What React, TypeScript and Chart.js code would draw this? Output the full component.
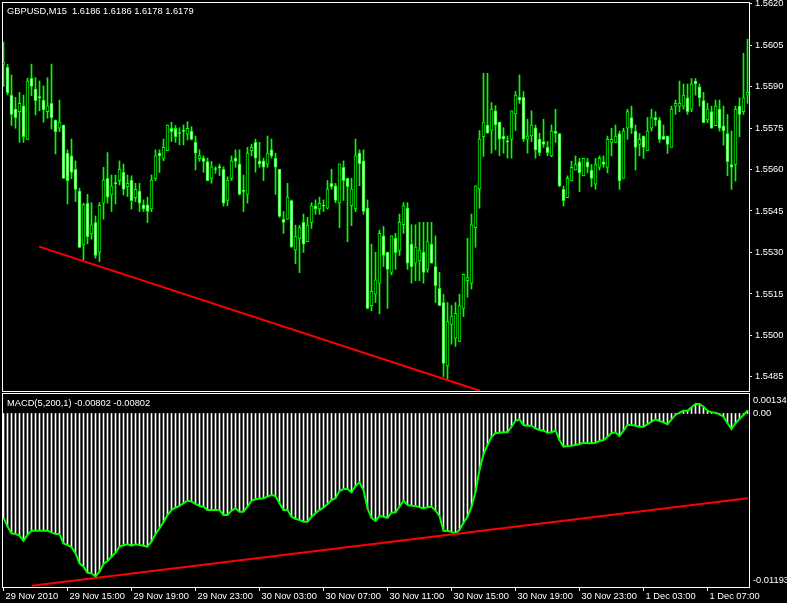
import React, { useEffect, useRef } from 'react';
import { Chart, registerables } from 'chart.js';

Chart.register(...registerables);

// ---- Chart data (GBPUSD M15, 187 bars) ----
const OPEN = [
  1.55980, 1.55969, 1.55869, 1.55818, 1.55809, 1.55830, 1.55709, 1.55930, 1.55891, 1.55862,
  1.55851, 1.55809, 1.55839, 1.55779, 1.55749, 1.55761, 1.55659, 1.55649, 1.55601, 1.55522,
  1.55327, 1.55478, 1.55367, 1.55408, 1.55301, 1.55478, 1.55568, 1.55508, 1.55551, 1.55560,
  1.55590, 1.55538, 1.55562, 1.55498, 1.55522, 1.55472, 1.55472, 1.55457, 1.55568, 1.55659,
  1.55640, 1.55668, 1.55749, 1.55749, 1.55732, 1.55740, 1.55728, 1.55739, 1.55698, 1.55639,
  1.55641, 1.55629, 1.55568, 1.55602, 1.55609, 1.55601, 1.55488, 1.55568, 1.55641, 1.55620,
  1.55523, 1.55510, 1.55668, 1.55698, 1.55631, 1.55631, 1.55619, 1.55671, 1.55641, 1.55601,
  1.55420, 1.55420, 1.55488, 1.55309, 1.55351, 1.55409, 1.55339, 1.55409, 1.55469, 1.55457,
  1.55470, 1.55460, 1.55550, 1.55541, 1.55478, 1.55608, 1.55568, 1.55469, 1.55457, 1.55659,
  1.55631, 1.55460, 1.55108, 1.55149, 1.55189, 1.55360, 1.55301, 1.55228, 1.55351, 1.55307,
  1.55400, 1.55460, 1.55330, 1.55261, 1.55269, 1.55301, 1.55239, 1.55330, 1.55249, 1.55170,
  1.55119, 1.54890, 1.55040, 1.54990, 1.54978, 1.55098, 1.55198, 1.55189, 1.55390, 1.55530,
  1.55719, 1.55761, 1.55741, 1.55812, 1.55771, 1.55721, 1.55702, 1.55710, 1.55801, 1.55861,
  1.55861, 1.55710, 1.55721, 1.55751, 1.55710, 1.55701, 1.55680, 1.55649, 1.55739, 1.55730,
  1.55528, 1.55498, 1.55559, 1.55598, 1.55628, 1.55577, 1.55628, 1.55598, 1.55547, 1.55608,
  1.55628, 1.55608, 1.55698, 1.55698, 1.55730, 1.55568, 1.55749, 1.55788, 1.55739, 1.55691,
  1.55721, 1.55668, 1.55749, 1.55788, 1.55779, 1.55721, 1.55721, 1.55680, 1.55829, 1.55829,
  1.55829, 1.55859, 1.55818, 1.55920, 1.55899, 1.55849, 1.55779, 1.55809, 1.55758, 1.55818,
  1.55758, 1.55730, 1.55618, 1.55618, 1.55829, 1.55809, 1.55869,
];

const HIGH = [
  1.56061, 1.55980, 1.55942, 1.55861, 1.55879, 1.55869, 1.55930, 1.55981, 1.55932, 1.55920,
  1.55902, 1.55932, 1.55981, 1.55779, 1.55851, 1.55761, 1.55671, 1.55710, 1.55631, 1.55532,
  1.55478, 1.55510, 1.55480, 1.55432, 1.55480, 1.55608, 1.55661, 1.55580, 1.55580, 1.55631,
  1.55620, 1.55580, 1.55577, 1.55550, 1.55550, 1.55490, 1.55500, 1.55580, 1.55671, 1.55671,
  1.55710, 1.55761, 1.55771, 1.55759, 1.55751, 1.55761, 1.55773, 1.55755, 1.55721, 1.55671,
  1.55649, 1.55641, 1.55629, 1.55610, 1.55620, 1.55610, 1.55574, 1.55649, 1.55671, 1.55671,
  1.55580, 1.55680, 1.55691, 1.55710, 1.55698, 1.55641, 1.55721, 1.55710, 1.55659, 1.55601,
  1.55448, 1.55550, 1.55490, 1.55399, 1.55399, 1.55439, 1.55427, 1.55480, 1.55490, 1.55500,
  1.55490, 1.55560, 1.55601, 1.55550, 1.55620, 1.55631, 1.55568, 1.55568, 1.55710, 1.55671,
  1.55671, 1.55490, 1.55330, 1.55301, 1.55381, 1.55394, 1.55301, 1.55360, 1.55369, 1.55439,
  1.55480, 1.55480, 1.55400, 1.55400, 1.55409, 1.55409, 1.55409, 1.55409, 1.55360, 1.55228,
  1.55149, 1.55119, 1.55108, 1.55119, 1.55149, 1.55221, 1.55351, 1.55439, 1.55541, 1.55741,
  1.55948, 1.55948, 1.55842, 1.55831, 1.55771, 1.55751, 1.55721, 1.55812, 1.55882, 1.55942,
  1.55882, 1.55782, 1.55812, 1.55761, 1.55731, 1.55782, 1.55701, 1.55761, 1.55818, 1.55730,
  1.55540, 1.55577, 1.55630, 1.55649, 1.55640, 1.55640, 1.55640, 1.55618, 1.55640, 1.55649,
  1.55649, 1.55721, 1.55749, 1.55761, 1.55739, 1.55749, 1.55818, 1.55829, 1.55761, 1.55730,
  1.55721, 1.55788, 1.55818, 1.55809, 1.55788, 1.55761, 1.55721, 1.55829, 1.55851, 1.55920,
  1.55909, 1.55909, 1.55929, 1.55929, 1.55909, 1.55879, 1.55839, 1.55829, 1.55851, 1.55851,
  1.55829, 1.55799, 1.55739, 1.55829, 1.55859, 1.56020, 1.56071,
];

const LOW = [
  1.55900, 1.55870, 1.55759, 1.55749, 1.55698, 1.55698, 1.55709, 1.55867, 1.55797, 1.55812,
  1.55771, 1.55785, 1.55746, 1.55656, 1.55737, 1.55568, 1.55475, 1.55566, 1.55484, 1.55318,
  1.55273, 1.55331, 1.55348, 1.55279, 1.55267, 1.55420, 1.55478, 1.55448, 1.55475, 1.55544,
  1.55508, 1.55502, 1.55457, 1.55484, 1.55448, 1.55448, 1.55408, 1.55448, 1.55560, 1.55589,
  1.55631, 1.55668, 1.55701, 1.55698, 1.55689, 1.55689, 1.55707, 1.55707, 1.55598, 1.55629,
  1.55590, 1.55560, 1.55550, 1.55586, 1.55578, 1.55468, 1.55468, 1.55560, 1.55608, 1.55508,
  1.55448, 1.55478, 1.55649, 1.55590, 1.55608, 1.55560, 1.55608, 1.55641, 1.55510, 1.55427,
  1.55369, 1.55420, 1.55319, 1.55259, 1.55227, 1.55300, 1.55339, 1.55387, 1.55438, 1.55438,
  1.55448, 1.55457, 1.55529, 1.55480, 1.55390, 1.55488, 1.55339, 1.55397, 1.55448, 1.55541,
  1.55438, 1.55096, 1.55089, 1.55119, 1.55078, 1.55249, 1.55098, 1.55219, 1.55239, 1.55289,
  1.55369, 1.55239, 1.55189, 1.55198, 1.55198, 1.55189, 1.55228, 1.55261, 1.55119, 1.55108,
  1.54851, 1.54839, 1.54968, 1.54960, 1.54978, 1.55068, 1.55138, 1.55168, 1.55319, 1.55460,
  1.55647, 1.55731, 1.55659, 1.55671, 1.55650, 1.55659, 1.55641, 1.55641, 1.55741, 1.55839,
  1.55701, 1.55659, 1.55701, 1.55641, 1.55650, 1.55680, 1.55650, 1.55646, 1.55698, 1.55538,
  1.55468, 1.55498, 1.55558, 1.55598, 1.55520, 1.55577, 1.55588, 1.55538, 1.55528, 1.55598,
  1.55608, 1.55588, 1.55649, 1.55698, 1.55528, 1.55568, 1.55709, 1.55730, 1.55598, 1.55649,
  1.55640, 1.55668, 1.55739, 1.55758, 1.55698, 1.55709, 1.55658, 1.55680, 1.55799, 1.55809,
  1.55818, 1.55799, 1.55809, 1.55869, 1.55829, 1.55769, 1.55769, 1.55749, 1.55758, 1.55739,
  1.55688, 1.55577, 1.55528, 1.55558, 1.55718, 1.55799, 1.55839,
];

const CLOSE = [
  1.55987, 1.55878, 1.55799, 1.55787, 1.55839, 1.55719, 1.55920, 1.55900, 1.55849, 1.55860,
  1.55815, 1.55830, 1.55787, 1.55737, 1.55771, 1.55568, 1.55560, 1.55589, 1.55528, 1.55318,
  1.55472, 1.55357, 1.55400, 1.55289, 1.55470, 1.55562, 1.55500, 1.55540, 1.55549, 1.55601,
  1.55528, 1.55550, 1.55487, 1.55528, 1.55478, 1.55457, 1.55448, 1.55562, 1.55649, 1.55649,
  1.55680, 1.55761, 1.55737, 1.55719, 1.55730, 1.55738, 1.55749, 1.55709, 1.55659, 1.55649,
  1.55629, 1.55560, 1.55610, 1.55600, 1.55607, 1.55478, 1.55562, 1.55631, 1.55629, 1.55510,
  1.55521, 1.55659, 1.55680, 1.55641, 1.55619, 1.55608, 1.55659, 1.55649, 1.55608, 1.55430,
  1.55409, 1.55500, 1.55319, 1.55357, 1.55390, 1.55330, 1.55399, 1.55469, 1.55457, 1.55478,
  1.55468, 1.55529, 1.55538, 1.55488, 1.55620, 1.55560, 1.55538, 1.55529, 1.55649, 1.55620,
  1.55448, 1.55098, 1.55159, 1.55201, 1.55369, 1.55289, 1.55239, 1.55360, 1.55299, 1.55409,
  1.55469, 1.55261, 1.55249, 1.55319, 1.55309, 1.55228, 1.55339, 1.55261, 1.55180, 1.55108,
  1.54899, 1.55050, 1.55068, 1.55080, 1.55108, 1.55221, 1.55209, 1.55400, 1.55541, 1.55710,
  1.55771, 1.55731, 1.55818, 1.55761, 1.55710, 1.55710, 1.55700, 1.55812, 1.55869, 1.55851,
  1.55710, 1.55721, 1.55761, 1.55671, 1.55661, 1.55691, 1.55661, 1.55739, 1.55730, 1.55540,
  1.55487, 1.55568, 1.55608, 1.55618, 1.55588, 1.55640, 1.55608, 1.55568, 1.55618, 1.55640,
  1.55618, 1.55709, 1.55709, 1.55721, 1.55559, 1.55739, 1.55809, 1.55749, 1.55680, 1.55709,
  1.55680, 1.55739, 1.55788, 1.55779, 1.55709, 1.55709, 1.55691, 1.55818, 1.55839, 1.55839,
  1.55869, 1.55809, 1.55909, 1.55909, 1.55859, 1.55769, 1.55818, 1.55749, 1.55829, 1.55749,
  1.55739, 1.55628, 1.55608, 1.55818, 1.55799, 1.55859, 1.55879,
];

const MACD = [
  -0.00717, -0.00778, -0.00824, -0.00829, -0.00840, -0.00875, -0.00835, -0.00806, -0.00806, -0.00806,
  -0.00806, -0.00806, -0.00817, -0.00829, -0.00829, -0.00893, -0.00904, -0.00920, -0.00961, -0.01030,
  -0.01053, -0.01095, -0.01099, -0.01122, -0.01088, -0.01035, -0.01014, -0.00985, -0.00957, -0.00916,
  -0.00906, -0.00899, -0.00909, -0.00899, -0.00904, -0.00909, -0.00916, -0.00881, -0.00829, -0.00789,
  -0.00748, -0.00698, -0.00664, -0.00648, -0.00636, -0.00617, -0.00600, -0.00606, -0.00622, -0.00636,
  -0.00641, -0.00664, -0.00664, -0.00664, -0.00664, -0.00698, -0.00698, -0.00668, -0.00652, -0.00675,
  -0.00675, -0.00641, -0.00600, -0.00590, -0.00585, -0.00583, -0.00572, -0.00560, -0.00567, -0.00617,
  -0.00664, -0.00664, -0.00710, -0.00725, -0.00732, -0.00744, -0.00744, -0.00710, -0.00686, -0.00664,
  -0.00648, -0.00622, -0.00595, -0.00583, -0.00533, -0.00519, -0.00519, -0.00542, -0.00499, -0.00473,
  -0.00526, -0.00652, -0.00717, -0.00739, -0.00705, -0.00710, -0.00717, -0.00682, -0.00679, -0.00641,
  -0.00600, -0.00629, -0.00634, -0.00636, -0.00645, -0.00652, -0.00645, -0.00641, -0.00668, -0.00705,
  -0.00806, -0.00808, -0.00813, -0.00824, -0.00801, -0.00751, -0.00710, -0.00641, -0.00538, -0.00388,
  -0.00278, -0.00217, -0.00160, -0.00136, -0.00132, -0.00129, -0.00129, -0.00091, -0.00050, -0.00041,
  -0.00079, -0.00084, -0.00084, -0.00102, -0.00113, -0.00118, -0.00132, -0.00129, -0.00118, -0.00182,
  -0.00228, -0.00223, -0.00221, -0.00217, -0.00210, -0.00201, -0.00205, -0.00205, -0.00201, -0.00189,
  -0.00182, -0.00160, -0.00136, -0.00129, -0.00155, -0.00118, -0.00079, -0.00079, -0.00084, -0.00091,
  -0.00091, -0.00074, -0.00056, -0.00040, -0.00052, -0.00061, -0.00074, -0.00040, -0.00010, 0.00006,
  0.00019, 0.00019, 0.00043, 0.00065, 0.00065, 0.00047, 0.00019, 0.00008, 0.00006, -0.00006,
  -0.00022, -0.00067, -0.00107, -0.00067, -0.00038, -0.00010, 0.00019,
];

// Trend lines (bar index, value)
const PRICE_TREND = [
  { x: 8.9, y: 1.55321 },
  { x: 119.1, y: 1.548 },
];
const MACD_TREND = [
  { x: 7.05, y: -0.01184 },
  { x: 186.1, y: -0.00583 },
];

// Axes
const PRICE_MIN = 1.54799;
const PRICE_MAX = 1.56202;
const PRICE_TICKS = [1.5485, 1.55, 1.5515, 1.553, 1.5545, 1.556, 1.5575, 1.559, 1.5605, 1.562];
const MACD_MIN = -0.01193;
const MACD_MAX = 0.00134;
const MACD_TICK_POS = [0.00088, 0, -0.01145];
const MACD_TICK_TEXT = ['0.00134', '0.00', '-0.01193'];
const X_MIN = -0.125;
const X_MAX = 186.375;
const X_TICK_POS = [0, 16, 32, 48, 64, 80, 96, 112, 128, 144, 160, 176];
const X_TICK_TEXT = [
  '29 Nov 2010', '29 Nov 15:00', '29 Nov 19:00', '29 Nov 23:00',
  '30 Nov 03:00', '30 Nov 07:00', '30 Nov 11:00', '30 Nov 15:00',
  '30 Nov 19:00', '30 Nov 23:00', '1 Dec 03:00', '1 Dec 07:00',
];

const HEADER = 'GBPUSD,M15  1.6186 1.6186 1.6178 1.6179';
const MACD_HEADER = 'MACD(5,200,1) -0.00802 -0.00802';

const FONT_FAMILY = "'Liberation Sans', Arial, sans-serif";
const FONT_SIZE = 9.3;
const FONT = { family: FONT_FAMILY, size: FONT_SIZE };
const GREEN = '#00ff00';
const RED = '#ff0000';
const WHITE = '#ffffff';

const makeOverlay = (label: string, dy: number) => ({
  id: 'mt4overlay',
  afterDraw(chart: any) {
    const { ctx, chartArea: a } = chart;
    ctx.save();
    ctx.strokeStyle = WHITE;
    ctx.lineWidth = 1;
    ctx.strokeRect(a.left - 0.5, a.top - 0.5, a.right - a.left + 1, a.bottom - a.top + 1);
    ctx.fillStyle = WHITE;
    ctx.font = `${FONT_SIZE}px ${FONT_FAMILY}`;
    ctx.textBaseline = 'middle';
    ctx.textAlign = 'left';
    ctx.fillText(label, a.left + 4, a.top + dy);
    ctx.restore();
  },
});

const fitY = (s: any) => {
  s.width = 38;
  s.paddingTop = 0;
  s.paddingBottom = 0;
  s.paddingLeft = 0;
  s.paddingRight = 0;
};
const fitX = (s: any) => {
  s.height = 16;
  s.paddingLeft = 0;
  s.paddingRight = 0;
  s.paddingTop = 0;
  s.paddingBottom = 0;
};

export default function App() {
  const topRef = useRef<HTMLCanvasElement>(null);
  const botRef = useRef<HTMLCanvasElement>(null);

  useEffect(() => {
    document.body.style.background = '#000';

    const bodies = OPEN.map((o, i) => ({ x: i, y: [Math.min(o, CLOSE[i]), Math.max(o, CLOSE[i])] }));
    const bodyColors = OPEN.map((o, i) => (CLOSE[i] < o ? WHITE : '#000000'));
    const wicks = HIGH.map((h, i) => ({ x: i, y: [LOW[i], h] }));

    const top = new Chart(topRef.current as HTMLCanvasElement, {
      type: 'bar',
      data: {
        datasets: [
          {
            type: 'line',
            data: PRICE_TREND,
            borderColor: RED,
            borderWidth: 2,
            pointRadius: 0,
            pointHoverRadius: 0,
            order: 0,
          } as any,
          {
            type: 'bar',
            data: bodies,
            backgroundColor: bodyColors,
            borderColor: GREEN,
            borderWidth: 1,
            borderSkipped: false,
            barThickness: 3,
            maxBarThickness: 3,
            minBarLength: 1,
            grouped: false,
            order: 1,
          } as any,
          {
            type: 'bar',
            data: wicks,
            backgroundColor: GREEN,
            borderWidth: 0,
            barThickness: 1,
            maxBarThickness: 1,
            grouped: false,
            order: 2,
          } as any,
        ],
      },
      options: {
        animation: false,
        responsive: false,
        maintainAspectRatio: false,
        events: [],
        layout: { padding: { left: 3, top: 3, right: 0, bottom: 1 } },
        plugins: { legend: { display: false }, tooltip: { enabled: false } },
        scales: {
          x: {
            type: 'linear',
            display: false,
            min: X_MIN,
            max: X_MAX,
            offset: false,
            grid: { offset: false },
          },
          y: {
            type: 'linear',
            position: 'right',
            min: PRICE_MIN,
            max: PRICE_MAX,
            bounds: 'data',
            afterFit: fitY,
            afterBuildTicks: (s: any) => { s.ticks = PRICE_TICKS.map((v) => ({ value: v })); },
            ticks: {
              color: WHITE,
              font: FONT,
              padding: 3,
              callback: (v: any) => Number(v).toFixed(4),
            },
            grid: { drawOnChartArea: false, drawTicks: true, tickLength: 3, color: WHITE },
            border: { display: false },
          },
        },
      } as any,
      plugins: [makeOverlay(HEADER, 8)],
    });

    const macdPts = MACD.map((v, i) => ({ x: i, y: v }));
    const bot = new Chart(botRef.current as HTMLCanvasElement, {
      type: 'bar',
      data: {
        datasets: [
          {
            type: 'line',
            data: MACD_TREND,
            borderColor: RED,
            borderWidth: 2,
            pointRadius: 0,
            pointHoverRadius: 0,
            order: 0,
          } as any,
          {
            type: 'line',
            data: macdPts,
            borderColor: GREEN,
            borderWidth: 2,
            pointRadius: 0,
            pointHoverRadius: 0,
            tension: 0,
            order: 1,
          } as any,
          {
            type: 'bar',
            data: macdPts,
            backgroundColor: WHITE,
            borderWidth: 0,
            barThickness: 1,
            maxBarThickness: 1,
            grouped: false,
            order: 2,
          } as any,
        ],
      },
      options: {
        animation: false,
        responsive: false,
        maintainAspectRatio: false,
        events: [],
        layout: { padding: { left: 3, top: 2, right: 0, bottom: 0 } },
        plugins: { legend: { display: false }, tooltip: { enabled: false } },
        scales: {
          x: {
            type: 'linear',
            min: X_MIN,
            max: X_MAX,
            offset: false,
            bounds: 'data',
            afterFit: fitX,
            afterBuildTicks: (s: any) => { s.ticks = X_TICK_POS.map((v) => ({ value: v })); },
            ticks: {
              color: WHITE,
              font: FONT,
              align: 'start',
              labelOffset: 2,
              padding: 0,
              maxRotation: 0,
              minRotation: 0,
              autoSkip: false,
              callback: (_v: any, i: number) => X_TICK_TEXT[i],
            },
            grid: { drawOnChartArea: false, drawTicks: true, tickLength: 4, color: WHITE, offset: false },
            border: { display: false },
          },
          y: {
            type: 'linear',
            position: 'right',
            min: MACD_MIN,
            max: MACD_MAX,
            bounds: 'data',
            afterFit: fitY,
            afterBuildTicks: (s: any) => { s.ticks = MACD_TICK_POS.map((v) => ({ value: v })); },
            ticks: {
              color: WHITE,
              font: FONT,
              padding: 4,
              callback: (_v: any, i: number) => MACD_TICK_TEXT[i],
            },
            grid: { display: false, drawOnChartArea: false, drawTicks: false },
            border: { display: false },
          },
        },
      } as any,
      plugins: [makeOverlay(MACD_HEADER, 9)],
    });

    return () => {
      top.destroy();
      bot.destroy();
    };
  }, []);

  return (
    <div style={{ position: 'absolute', left: 0, top: 0, width: 787, height: 603, background: '#000', overflow: 'hidden' }}>
      <canvas ref={topRef} width={787} height={392} style={{ position: 'absolute', left: 0, top: 0, display: 'block' }} />
      <canvas ref={botRef} width={787} height={211} style={{ position: 'absolute', left: 0, top: 392, display: 'block' }} />
    </div>
  );
}
